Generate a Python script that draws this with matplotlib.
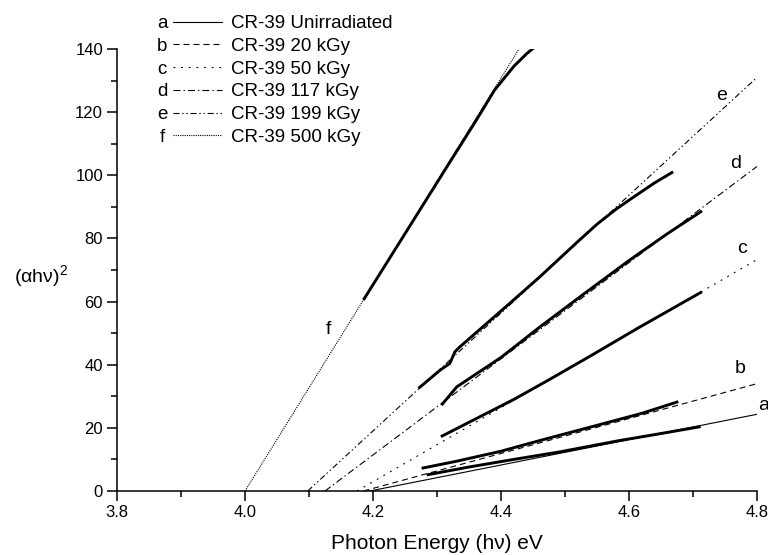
import matplotlib
matplotlib.use("Agg")
import matplotlib.pyplot as plt
from matplotlib.ticker import MultipleLocator

plt.rcParams['font.family'] = ['Liberation Sans', 'DejaVu Sans']
plt.rcParams['mathtext.fontset'] = 'custom'
plt.rcParams['mathtext.rm'] = 'Liberation Sans'
plt.rcParams['mathtext.it'] = 'Liberation Sans:italic'
plt.rcParams['lines.scale_dashes'] = False

# ---------------- data ----------------
labels = ["CR-39 Unirradiated", "CR-39 20 kGy", "CR-39 50 kGy",
          "CR-39 117 kGy", "CR-39 199 kGy", "CR-39 500 kGy"]
letters = ["a", "b", "c", "d", "e", "f"]

a_x = [4.284, 4.35, 4.42, 4.492, 4.583, 4.65, 4.712]
a_y = [5.1, 7.6, 10.0, 12.4, 15.9, 18.2, 20.4]
b_x = [4.276, 4.33, 4.40, 4.461, 4.55, 4.62, 4.677]
b_y = [7.2, 9.4, 12.6, 16.0, 20.8, 24.6, 28.3]
c_x = [4.306, 4.36, 4.42, 4.473, 4.54, 4.614, 4.714]
c_y = [17.2, 22.8, 29.0, 35.0, 42.8, 51.6, 63.1]
d_x = [4.307, 4.331, 4.40, 4.461, 4.53, 4.60, 4.66, 4.714]
d_y = [27.2, 33.0, 42.3, 52.0, 62.5, 73.0, 81.5, 88.7]
e_x = [4.271, 4.305, 4.32, 4.328, 4.336, 4.414, 4.461, 4.52, 4.55, 4.58,
       4.61, 4.64, 4.669]
e_y = [32.5, 38.3, 40.4, 44.1, 45.7, 59.5, 67.9, 79.0, 84.5, 89.3,
       93.5, 97.6, 101.1]
f_x = [4.185, 4.25, 4.318, 4.36, 4.39, 4.42, 4.44, 4.455]
f_y = [60.5, 81.5, 103.5, 117.0, 127.0, 134.5, 138.5, 141.0]

# linear-fit (extrapolation) line endpoints
a_fit_x, a_fit_y = [4.195, 4.8], [0, 24.3]
b_fit_x, b_fit_y = [4.185, 4.8], [0, 34.0]
c_fit_x, c_fit_y = [4.175, 4.8], [0, 73.3]
d_fit_x, d_fit_y = [4.125, 4.8], [0, 102.8]
e_fit_x, e_fit_y = [4.098, 4.8], [0, 131.0]
f_fit_x, f_fit_y = [4.0, 4.43], [0, 140.6]

# curve-letter label positions
lab_x = [4.81, 4.773, 4.777, 4.766, 4.745, 4.130]
lab_y = [27.2, 38.8, 76.9, 103.8, 125.4, 51.0]

xticks = [3.8, 4.0, 4.2, 4.4, 4.6, 4.8]
xticklabels = ["3.8", "4.0", "4.2", "4.4", "4.6", "4.8"]
yticks = [0, 20, 40, 60, 80, 100, 120, 140]

# ---------------- styles ----------------
dash_styles = [
    '-',
    (0, (4.3, 2.9)),
    (0, (1.3, 4.2)),
    (0, (5.0, 2.2, 1.0, 2.2)),
    (0, (4.3, 2.0, 1.0, 2.0, 1.0, 2.0)),
    (0, (0.8, 0.8)),
]

fig = plt.figure(figsize=(7.68, 5.55), dpi=100)
ax = fig.add_axes([117/768, 64/555, 640/768, 442/555])

data_sets = [(a_x, a_y), (b_x, b_y), (c_x, c_y), (d_x, d_y), (e_x, e_y), (f_x, f_y)]
fit_sets = [(a_fit_x, a_fit_y), (b_fit_x, b_fit_y), (c_fit_x, c_fit_y),
            (d_fit_x, d_fit_y), (e_fit_x, e_fit_y), (f_fit_x, f_fit_y)]

handles = []
for (fx, fy), ls in zip(fit_sets, dash_styles):
    h, = ax.plot(fx, fy, color='black', lw=0.8, linestyle=ls)
    handles.append(h)
for dx, dy in data_sets:
    ax.plot(dx, dy, color='black', lw=2.1, solid_capstyle='butt',
            solid_joinstyle='round')

for lx, ly, lt in zip(lab_x, lab_y, letters):
    ax.text(lx, ly, lt, fontsize=14, ha='center', va='center', clip_on=False)

ax.set_xlim(3.8, 4.8)
ax.set_ylim(0, 140)
ax.set_xticks(xticks)
ax.set_xticklabels(xticklabels)
ax.set_yticks(yticks)
ax.xaxis.set_minor_locator(MultipleLocator(0.1))
ax.yaxis.set_minor_locator(MultipleLocator(10))
ax.tick_params(which='major', direction='out', length=7, width=1.1, labelsize=12, pad=3)
ax.tick_params(which='minor', direction='out', length=4, width=1.1)
for s in ['top', 'right']:
    ax.spines[s].set_visible(False)
for s in ['left', 'bottom']:
    ax.spines[s].set_linewidth(1.1)

ax.set_xlabel("Photon Energy (h\u03bd) eV", fontsize=15, labelpad=10)
fig.text(41/768, 1 - 276/555, r'$\mathregular{(\alpha h\nu)^2}$', fontsize=14,
         ha='center', va='center')

leg = fig.legend(handles, labels, loc='upper left',
                 bbox_to_anchor=(173/768, 1 - 15/555), frameon=False,
                 fontsize=13.5, handlelength=2.6, handletextpad=0.5,
                 labelspacing=0.3, borderpad=0, borderaxespad=0)

fig.canvas.draw()
inv = fig.transFigure.inverted()
for t, lt in zip(leg.get_texts(), letters):
    bb = t.get_window_extent()
    ymid = (bb.y0 + bb.y1) / 2
    xf, yf = inv.transform((162, ymid))
    fig.text(xf, yf, lt, fontsize=13.5, ha='center', va='center')

fig.savefig("out.png", dpi=100)
